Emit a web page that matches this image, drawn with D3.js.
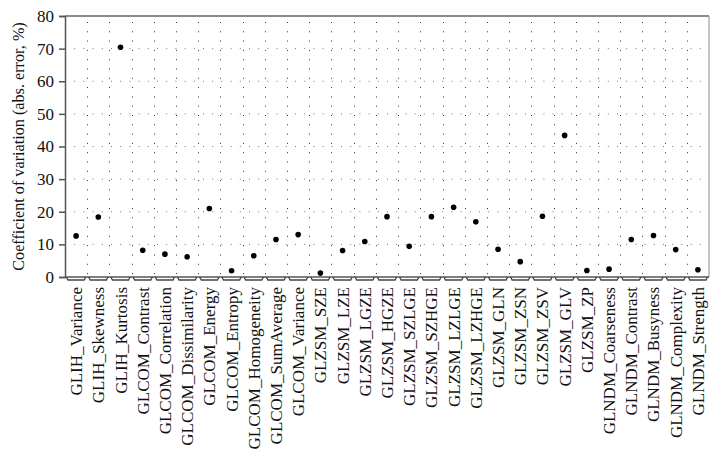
<!DOCTYPE html>
<html><head><meta charset="utf-8">
<script src="https://cdn.jsdelivr.net/npm/d3@7"></script>
<style>body{margin:0;background:#fff}svg{display:block}text{font-family:"Liberation Serif","Times New Roman",serif}</style>
</head><body>
<svg id="c" width="720" height="455"></svg>
<script>
const categories = ["GLIH_Variance","GLIH_Skewness","GLIH_Kurtosis","GLCOM_Contrast","GLCOM_Correlation","GLCOM_Dissimilarity","GLCOM_Energy","GLCOM_Entropy","GLCOM_Homogeneity","GLCOM_SumAverage","GLCOM_Variance","GLZSM_SZE","GLZSM_LZE","GLZSM_LGZE","GLZSM_HGZE","GLZSM_SZLGE","GLZSM_SZHGE","GLZSM_LZLGE","GLZSM_LZHGE","GLZSM_GLN","GLZSM_ZSN","GLZSM_ZSV","GLZSM_GLV","GLZSM_ZP","GLNDM_Coarseness","GLNDM_Contrast","GLNDM_Busyness","GLNDM_Complexity","GLNDM_Strength"];
const values = [12.6,18.4,70.4,8.2,7.0,6.2,21.0,1.9,6.5,11.5,13.0,1.2,8.1,10.9,18.5,9.4,18.5,21.4,16.9,8.5,4.7,18.6,43.4,2.0,2.4,11.5,12.7,8.4,2.2];
const yTicks = [0,10,20,30,40,50,60,70,80];
const yTitle = "Coefficient of variation (abs. error, %)";

const svg = d3.select("#c");
const L = 65, R = 709, T = 16, B = 277;
const x = d3.scaleBand().domain(categories).range([L, R]).padding(0);
const y = d3.scaleLinear().domain([0, 80]).range([B, T]);

// grid
const g = svg.append("g");
g.selectAll(".hg").data(yTicks.filter(d => d > 0 && d < 80)).join("line")
  .attr("x1", L).attr("x2", R).attr("y1", d => y(d)).attr("y2", d => y(d))
  .attr("stroke", "#777").attr("stroke-width", 1).attr("stroke-dasharray", "1,8.2");
g.selectAll(".vg").data(categories.slice(1)).join("line")
  .attr("x1", d => Math.round(x(d)) + 0.5).attr("x2", d => Math.round(x(d)) + 0.5)
  .attr("y1", T + 6).attr("y2", B)
  .attr("stroke", "#333").attr("stroke-width", 1).attr("stroke-dasharray", "1,8.3");

// frame top/right
svg.append("line").attr("x1", L).attr("x2", R).attr("y1", T).attr("y2", T).attr("stroke", "#666").attr("stroke-width", 1.5);
svg.append("line").attr("x1", R).attr("x2", R).attr("y1", T).attr("y2", B).attr("stroke", "#888").attr("stroke-width", 1);

// y axis
const ya = svg.append("g").attr("transform", `translate(${L},0)`)
  .call(d3.axisLeft(y).tickValues(yTicks).tickSize(6).tickPadding(5));
ya.select(".domain").attr("stroke", "#555").attr("stroke-width", 1.5);
ya.selectAll(".tick line").attr("stroke", "#555").attr("stroke-width", 1.5);
ya.selectAll("text").attr("font-family", null).attr("font-size", 17).attr("fill", "#111");

// x axis baseline with brackets
svg.append("line").attr("x1", L).attr("x2", R).attr("y1", B).attr("y2", B).attr("stroke", "#555").attr("stroke-width", 1.5);
svg.selectAll(".br").data(categories).join("path")
  .attr("d", d => { const a = x(d) + 1.5, b = x(d) + x.bandwidth() - 1.5; return `M${a},${B}L${a+1.5},${B+3}L${b-1.5},${B+3}L${b},${B}`; })
  .attr("fill", "none").attr("stroke", "#444").attr("stroke-width", 1.3);

// x labels
svg.selectAll(".xl").data(categories).join("text")
  .attr("transform", d => `translate(${x(d) + x.bandwidth()/2 + 6},${B + 10}) rotate(-90)`)
  .attr("text-anchor", "end").attr("font-size", 17).attr("fill", "#111")
  .text(d => d);

// points
svg.selectAll(".pt").data(values).join("circle")
  .attr("cx", (d, i) => x(categories[i]) + x.bandwidth()/2)
  .attr("cy", d => y(d)).attr("r", 2.8).attr("fill", "#000");

// y title
svg.append("text").attr("transform", `translate(24,${(T + B)/2}) rotate(-90)`)
  .attr("text-anchor", "middle").attr("font-size", 16.2).attr("fill", "#111")
  .text(yTitle);
</script>
</body></html>
